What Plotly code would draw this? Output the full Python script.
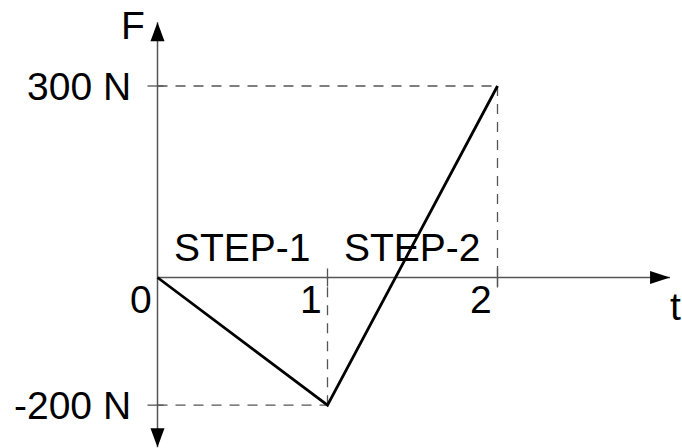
import plotly.graph_objects as go

# force-time profile
t_values = [0, 1, 2]
f_values = [0, -200, 300]
x_ticks = [0, 1, 2]
x_tick_labels = ["0", "1", "2"]
y_marks = [300, -200]
y_mark_labels = ["300 N", "-200 N"]
step_labels = ["STEP-1", "STEP-2"]

FONT = dict(family="Liberation Sans, Arial, sans-serif", size=39, color="black")
AXIS_COLOR = "#555555"
DASH_COLOR = "#555555"

# pixel scale of the drawing: origin at (157.5, 277.5), 170 px per time unit, 0.6383 px per N
X_RANGE = [-157.5 / 170, (682 - 157.5) / 170]
Y_RANGE = [-(448 - 277.5) / 0.6383, 277.5 / 0.6383]
X_TIP = 3.015
Y_TOP = 400
Y_BOTTOM = -266

fig = go.Figure()

fig.add_trace(go.Scatter(
    x=t_values, y=f_values, mode="lines",
    line=dict(color="black", width=2.8),
    hoverinfo="skip", showlegend=False,
))

shapes = []
# axes
shapes.append(dict(type="line", x0=0, x1=X_TIP, y0=0, y1=0,
                   line=dict(color=AXIS_COLOR, width=1.5), layer="below"))
shapes.append(dict(type="line", x0=0, x1=0, y0=Y_BOTTOM, y1=Y_TOP,
                   line=dict(color=AXIS_COLOR, width=1.5), layer="below"))
# arrowheads (pixel-sized, anchored at the tips)
shapes.append(dict(type="path", xsizemode="pixel", ysizemode="pixel",
                   xanchor=0, yanchor=Y_TOP, path="M0,0 L-7,-19 L7,-19 Z",
                   fillcolor="black", line=dict(width=0)))
shapes.append(dict(type="path", xsizemode="pixel", ysizemode="pixel",
                   xanchor=0, yanchor=Y_BOTTOM, path="M0,0 L-7,19 L7,19 Z",
                   fillcolor="black", line=dict(width=0)))
shapes.append(dict(type="path", xsizemode="pixel", ysizemode="pixel",
                   xanchor=X_TIP, yanchor=0, path="M0,0 L-20,-6.5 L-20,6.5 Z",
                   fillcolor="black", line=dict(width=0)))

# dashed guides from the turning points to the axes
dash = dict(color=DASH_COLOR, width=1.3, dash="10px,8px")
for t, f in zip(t_values[1:], f_values[1:]):
    shapes.append(dict(type="line", x0=0, x1=t, y0=f, y1=f, layer="below", line=dash))
    shapes.append(dict(type="line", x0=t, x1=t, y0=f, y1=0, layer="below", line=dash))
shapes.append(dict(type="line", x0=2, x1=2, y0=0, y1=-20, layer="below", line=dash))

# small solid ticks
for t in x_ticks[1:]:
    shapes.append(dict(type="line", xsizemode="pixel", ysizemode="pixel",
                       xanchor=t, yanchor=0, x0=0, x1=0, y0=-9, y1=9,
                       line=dict(color=AXIS_COLOR, width=1.3)))
for f in y_marks:
    shapes.append(dict(type="line", xsizemode="pixel", ysizemode="pixel",
                       xanchor=0, yanchor=f, x0=-10, x1=6, y0=0, y1=0,
                       line=dict(color=AXIS_COLOR, width=1.3)))

annotations = []
for t, lab in zip(x_ticks, x_tick_labels):
    annotations.append(dict(x=t, y=0, text=lab, showarrow=False, font=FONT,
                            xanchor="right", yanchor="top", xshift=-4, yshift=2))
for f, lab in zip(y_marks, y_mark_labels):
    annotations.append(dict(x=0, y=f, text=lab, showarrow=False, font=FONT,
                            xanchor="right", yanchor="middle", xshift=-25, yshift=0))
for i, lab in enumerate(step_labels):
    annotations.append(dict(x=i + 0.5, y=0, text=lab, showarrow=False, font=FONT,
                            xanchor="center", yanchor="bottom", yshift=7))
annotations.append(dict(x=0, y=Y_TOP, text="F", showarrow=False, font=FONT,
                        xanchor="right", yanchor="middle", xshift=-11, yshift=-3))
annotations.append(dict(x=X_TIP, y=0, text="t", showarrow=False, font=FONT,
                        xanchor="center", yanchor="top", xshift=5, yshift=-5))

fig.update_layout(
    width=682, height=448,
    margin=dict(l=0, r=0, t=0, b=0),
    paper_bgcolor="white", plot_bgcolor="white",
    xaxis=dict(range=X_RANGE, visible=False, fixedrange=True),
    yaxis=dict(range=Y_RANGE, visible=False, fixedrange=True),
    shapes=shapes,
    annotations=annotations,
    showlegend=False,
)

fig.write_html("out.html", config={"displayModeBar": False},
               post_script="document.body.style.margin='0';")
